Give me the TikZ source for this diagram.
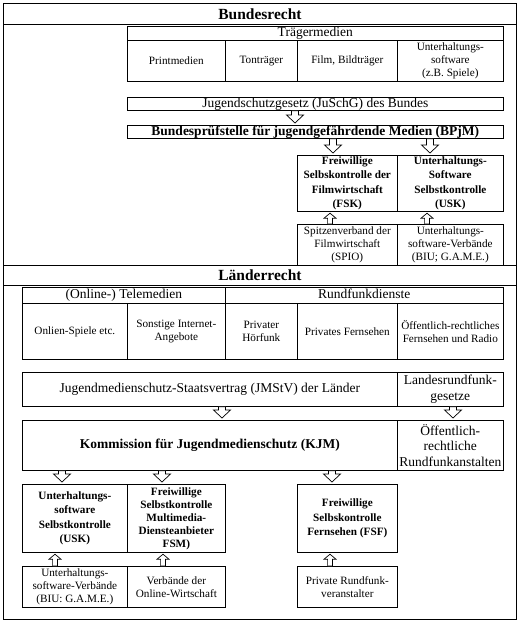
\documentclass[tikz,border=0pt]{standalone}
\usepackage{fontspec}
\setmainfont{Liberation Serif}
\usetikzlibrary{calc}
\newcommand{\smallsz}{\fontsize{11.2}{13.2}\selectfont}
\newcommand{\boldsz}{\fontsize{11.2}{14.4}\selectfont\bfseries}
\newcommand{\midsz}{\fontsize{13.5}{15.5}\selectfont}
\newcommand{\headsz}{\fontsize{15.5}{18}\selectfont\bfseries}
\tikzset{
  frame/.style={draw, line width=1pt},
  cell/.style={draw, line width=0.7pt, anchor=north west, inner sep=1pt, align=center, font=\smallsz},
  boldcell/.style={cell, font=\boldsz},
  big/.style={cell, font=\midsz},
  oneline/.style={big, text height=9.5pt, text depth=2.5pt, inner ysep=0.5pt},
  head/.style={cell, line width=1pt, font=\headsz},
  bigarrow/.style={draw, fill=white, line width=0.7pt, to path={
    ($(\tikztostart)+(-3.5,0)$) -- ($(\tikztotarget)+(-3.5,-10)$) -- ($(\tikztotarget)+(-8.5,-10)$)
    -- ($(\tikztotarget)+(0,-2)$) -- ($(\tikztotarget)+(8.5,-10)$) -- ($(\tikztotarget)+(3.5,-10)$)
    -- ($(\tikztostart)+(3.5,0)$) -- cycle}},
  smallarrow/.style={draw, fill=white, line width=0.7pt, to path={
    ($(\tikztostart)+(-2.4,0)$) -- ($(\tikztotarget)+(-2.4,6.5)$) -- ($(\tikztotarget)+(-6,6.5)$)
    -- ($(\tikztotarget)+(0,1.5)$) -- ($(\tikztotarget)+(6,6.5)$) -- ($(\tikztotarget)+(2.4,6.5)$)
    -- ($(\tikztostart)+(2.4,0)$) -- cycle}}
}
\begin{document}
\begin{tikzpicture}[x=1pt,y=-1pt]
\useasboundingbox[fill=white] (0,0) rectangle (520,622);

% Bundesrecht
\draw[frame] (3,3) rectangle (516,265);
\node[head, minimum width=513pt, minimum height=21pt] (bund) at (3,3) {Bundesrecht};
\node[oneline, minimum width=376pt, minimum height=14pt] (traeger) at (127,26) {Trägermedien};
\node[cell, minimum width=98pt, minimum height=41pt] (print) at (127,40) {Printmedien};
\node[cell, minimum width=72pt, minimum height=41pt] (ton) at (225,40) {Tonträger};
\node[cell, minimum width=100pt, minimum height=41pt] (film) at (297,40) {Film, Bildträger};
\node[cell, minimum width=106pt, minimum height=41pt] (spiele) at (397,40) {Unterhaltungs-\\software\\(z.B. Spiele)};

\node[oneline, minimum width=376pt, minimum height=13pt] (juschg) at (127,97) {Jugendschutzgesetz (JuSchG) des Bundes};
\node[oneline, font=\midsz\bfseries, minimum width=376pt, minimum height=13pt] (bpjm) at (127,125) {Bundesprüfstelle für jugendgefährdende Medien (BPjM)};

\node[boldcell, minimum width=100pt, minimum height=56pt] (fsk) at (297,155) {Freiwillige\\Selbskontrolle der\\Filmwirtschaft\\(FSK)};
\node[boldcell, minimum width=106pt, minimum height=56pt] (usk) at (397,155) {Unterhaltungs-\\Software\\Selbstkontrolle\\(USK)};
\node[cell, minimum width=100pt, minimum height=41pt] (spio) at (297,224) {Spitzenverband der\\Filmwirtschaft\\(SPIO)};
\node[cell, minimum width=106pt, minimum height=41pt] (biu) at (397,224) {Unterhaltungs-\\software-Verbände\\(BIU; G.A.M.E.)};

% Laenderrecht
\draw[frame] (3,265) rectangle (516,619);
\node[head, minimum width=513pt, minimum height=20pt] (land) at (3,265) {Länderrecht};
\node[oneline, minimum width=203pt, minimum height=16pt] (tele) at (22,287) {(Online-) Telemedien};
\node[oneline, minimum width=278pt, minimum height=16pt] (rundfunk) at (225,287) {Rundfunkdienste};
\node[cell, minimum width=105pt, minimum height=56pt] (online) at (22,303) {Onlien-Spiele etc.};
\node[cell, minimum width=98pt, minimum height=56pt] (internet) at (127,303) {Sonstige Internet-\\Angebote};
\node[cell, minimum width=72pt, minimum height=56pt] (hoerfunk) at (225,303) {Privater\\Hörfunk};
\node[cell, minimum width=100pt, minimum height=56pt] (fernsehen) at (297,303) {Privates Fernsehen};
\node[cell, minimum width=106pt, minimum height=56pt] (oerradio) at (397,303) {Öffentlich-rechtliches\\Fernsehen und Radio};

\node[big, minimum width=375pt, minimum height=34pt] (jmstv) at (22,372) {Jugendmedienschutz-Staatsvertrag (JMStV) der Länder};
\node[big, minimum width=106pt, minimum height=34pt] (lrg) at (397,372) {Landesrundfunk-\\gesetze};
\node[big, font=\midsz\bfseries, minimum width=375pt, minimum height=50pt] (kjm) at (22,420) {Kommission für Jugendmedienschutz (KJM)};
\node[big, minimum width=106pt, minimum height=50pt] (oer) at (397,420) {Öffentlich-\\rechtliche\\Rundfunkanstalten};

\node[boldcell, minimum width=105pt, minimum height=68pt] (usk2) at (22,484) {Unterhaltungs-\\software\\Selbstkontrolle\\(USK)};
\node[boldcell, font=\fontsize{11.2}{13}\selectfont\bfseries, minimum width=98pt, minimum height=68pt] (fsm) at (127,484) {Freiwillige\\Selbstkontrolle\\Multimedia-\\Diensteanbieter\\FSM)};
\node[boldcell, minimum width=100pt, minimum height=68pt] (fsf) at (297,484) {Freiwillige\\Selbskontrolle\\Fernsehen (FSF)};
\node[cell, minimum width=105pt, minimum height=41pt] (biu2) at (22,566) {Unterhaltungs-\\software-Verbände\\(BIU: G.A.M.E.)};
\node[cell, minimum width=98pt, minimum height=41pt] (verbaende) at (127,566) {Verbände der\\Online-Wirtschaft};
\node[cell, minimum width=100pt, minimum height=41pt] (privat) at (297,566) {Private Rundfunk-\\veranstalter};

% arrow columns
\coordinate (cj) at (295,0);
\coordinate (cfsk) at (333,0);
\coordinate (cusk) at (430,0);
\coordinate (cspio) at (330,0);
\coordinate (cbiu) at (427,0);
\coordinate (ckjm) at (222,0);
\coordinate (coer) at (453,0);
\coordinate (cusk2) at (62,0);
\coordinate (cfsm) at (162,0);
\coordinate (cfsf) at (332,0);
\coordinate (cbiu2) at (55,0);
\coordinate (cverb) at (163,0);
\coordinate (cpriv) at (330,0);

\draw[bigarrow] (juschg.south -| cj) to (bpjm.north -| cj);
\draw[bigarrow] (bpjm.south -| cfsk) to (fsk.north -| cfsk);
\draw[bigarrow] (bpjm.south -| cusk) to (usk.north -| cusk);
\draw[smallarrow] (spio.north -| cspio) to (fsk.south -| cspio);
\draw[smallarrow] (biu.north -| cbiu) to (usk.south -| cbiu);

\draw[bigarrow] (jmstv.south -| ckjm) to (kjm.north -| ckjm);
\draw[bigarrow] (lrg.south -| coer) to (oer.north -| coer);
\draw[bigarrow] (kjm.south -| cusk2) to (usk2.north -| cusk2);
\draw[bigarrow] (kjm.south -| cfsm) to (fsm.north -| cfsm);
\draw[bigarrow] (kjm.south -| cfsf) to (fsf.north -| cfsf);
\draw[smallarrow] (biu2.north -| cbiu2) to (usk2.south -| cbiu2);
\draw[smallarrow] (verbaende.north -| cverb) to (fsm.south -| cverb);
\draw[smallarrow] (privat.north -| cpriv) to (fsf.south -| cpriv);

\end{tikzpicture}
\end{document}
